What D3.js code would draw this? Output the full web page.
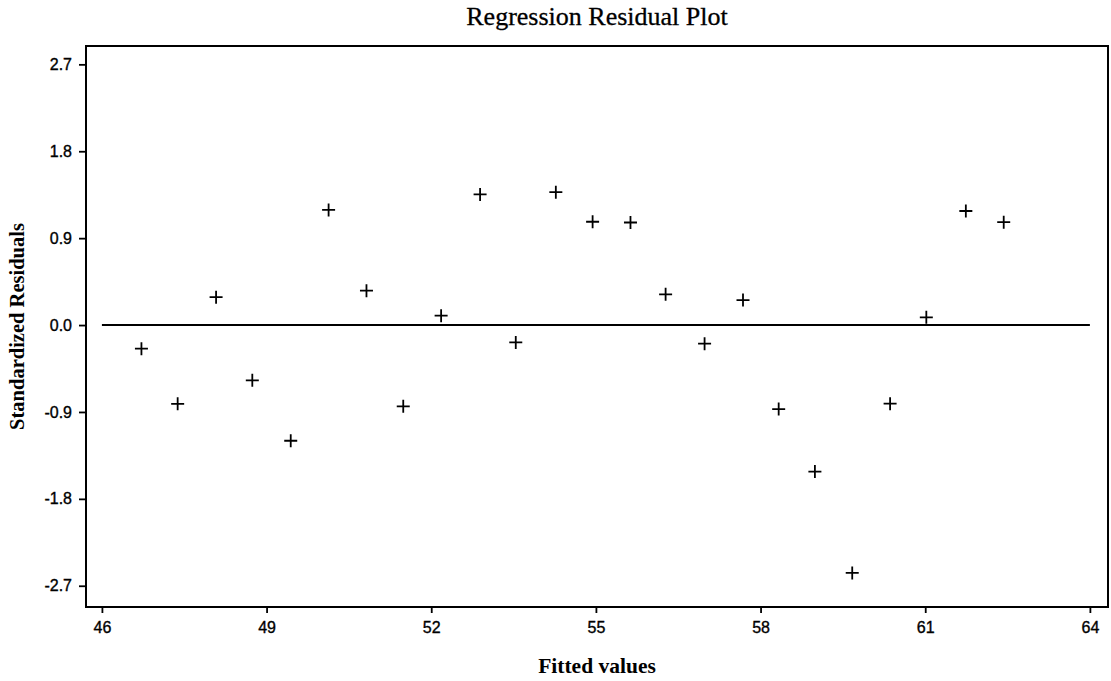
<!DOCTYPE html>
<html>
<head>
<meta charset="utf-8">
<script src="https://cdn.jsdelivr.net/npm/d3@7"></script>
<style>
  html, body { margin: 0; padding: 0; background: #fff; }
  svg { display: block; }
</style>
</head>
<body>
<svg id="chart" width="1111" height="681"></svg>
<script>
const fittedValues = [46.72, 47.38, 48.08, 48.74, 49.44, 50.13, 50.82, 51.49, 52.18, 52.89, 53.54, 54.27,
                      54.94, 55.63, 56.27, 56.98, 57.68, 58.33, 58.99, 59.67, 60.36, 61.02, 61.74, 62.43];
const residuals = [-0.245, -0.816, 0.289, -0.572, -1.198, 1.192, 0.356, -0.842, 0.097, 1.353, -0.180, 1.376,
                   1.070, 1.062, 0.318, -0.193, 0.259, -0.870, -1.517, -2.567, -0.814, 0.080, 1.181, 1.065];
const xTicks = [46, 49, 52, 55, 58, 61, 64];
const yTicks = [-2.7, -1.8, -0.9, 0.0, 0.9, 1.8, 2.7];
const refLineX = [46, 64];
const title = "Regression Residual Plot";
const xLabel = "Fitted values";
const yLabel = "Standardized Residuals";

(function () {
const svg = d3.select("#chart");
const mLeft = 86, mRight = 1108, mTop = 46, mBottom = 607;

const x = d3.scaleLinear().domain([45.71, 64.33]).range([mLeft, mRight]);
const y = d3.scaleLinear().domain([-2.92, 2.89]).range([mBottom, mTop]);

// Frame
svg.append("rect")
  .attr("x", mLeft).attr("y", mTop)
  .attr("width", mRight - mLeft).attr("height", mBottom - mTop)
  .attr("fill", "none").attr("stroke", "#000").attr("stroke-width", 2);

// Axes
const yAxis = d3.axisLeft(y).tickValues(yTicks).tickFormat(d => d.toFixed(1)).tickSize(7).tickPadding(7);
const xAxis = d3.axisBottom(x).tickValues(xTicks).tickFormat(d => String(d)).tickSize(6).tickPadding(9);

const gy = svg.append("g").attr("transform", `translate(${mLeft},0)`).call(yAxis);
const gx = svg.append("g").attr("transform", `translate(0,${mBottom})`).call(xAxis);
[gx, gy].forEach(g => {
  g.select(".domain").remove();
  g.selectAll(".tick line").attr("stroke", "#000").attr("stroke-width", 1.8);
  g.selectAll(".tick text")
    .attr("fill", "#000")
    .attr("stroke", "#000").attr("stroke-width", 0.35)
    .style("font-family", "'Liberation Sans', Arial, sans-serif")
    .style("font-size", "16px");
});

// Reference line at zero
svg.append("line")
  .attr("x1", x(refLineX[0])).attr("x2", x(refLineX[1]))
  .attr("y1", y(0)).attr("y2", y(0))
  .attr("stroke", "#000").attr("stroke-width", 2);

// Plus markers
const pts = fittedValues.map((v, i) => ({ fx: v, r: residuals[i] }));
const arm = 6.5;
const gp = svg.append("g").attr("stroke", "#000").attr("stroke-width", 1.8);
gp.selectAll("path.pt").data(pts).enter().append("path")
  .attr("class", "pt")
  .attr("d", d => {
    const cx = x(d.fx), cy = y(d.r);
    return `M${cx - arm},${cy}H${cx + arm}M${cx},${cy - arm}V${cy + arm}`;
  });

// Title
svg.append("text")
  .attr("x", (mLeft + mRight) / 2).attr("y", 25)
  .attr("text-anchor", "middle")
  .attr("stroke", "#000").attr("stroke-width", 0.3)
  .style("font-family", "'Liberation Serif', 'Times New Roman', serif")
  .style("font-size", "26px")
  .text(title);

// X label
svg.append("text")
  .attr("x", (mLeft + mRight) / 2).attr("y", 673)
  .attr("text-anchor", "middle")
  .style("font-family", "'Liberation Serif', 'Times New Roman', serif")
  .style("font-weight", "bold")
  .style("font-size", "21.5px")
  .text(xLabel);

// Y label
svg.append("text")
  .attr("transform", `translate(24,${(mTop + mBottom) / 2}) rotate(-90)`)
  .attr("text-anchor", "middle")
  .style("font-family", "'Liberation Serif', 'Times New Roman', serif")
  .style("font-weight", "bold")
  .style("font-size", "20.5px")
  .text(yLabel);
})();
</script>
</body>
</html>
